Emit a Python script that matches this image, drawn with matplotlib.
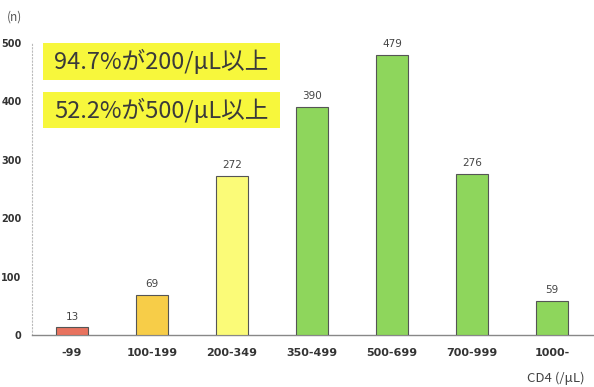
import matplotlib
matplotlib.use("Agg")
import matplotlib.pyplot as plt
from matplotlib.patches import Rectangle

plt.rcParams['font.family'] = ['Noto Sans CJK JP', 'DejaVu Sans']

categories = ["-99", "100-199", "200-349", "350-499", "500-699", "700-999", "1000-"]
counts = [13, 69, 272, 390, 479, 276, 59]
bar_colors = ["#e8735f", "#f7cd48", "#fbfb78", "#8ed65c", "#8ed65c", "#8ed65c", "#8ed65c"]
yticks = [0, 100, 200, 300, 400, 500]
notes = ["94.7%が200/μL以上", "52.2%が500/μL以上"]

W, H = 594, 387
fig = plt.figure(figsize=(W / 100, H / 100), dpi=100)
ax = fig.add_axes([32 / W, (H - 335) / H, (W - 32) / W, 292 / H])

x = range(len(categories))
ax.bar(x, counts, width=0.4, color=bar_colors, edgecolor="#555555", linewidth=0.8, zorder=3)
for xi, v in zip(x, counts):
    ax.text(xi, v + 10, str(v), ha="center", va="bottom", fontsize=7.5,
            color="#444444", family=["DejaVu Sans"], clip_on=False)

ax.set_xlim(-0.5, 6.525)
ax.set_ylim(0, 500)
ax.set_yticks(yticks)
ax.set_xticks(list(x))
ax.set_xticklabels(categories)
ax.tick_params(axis="both", length=0, colors="#333333")
ax.tick_params(axis="y", pad=7.5, labelsize=7)
ax.tick_params(axis="x", pad=9, labelsize=8)
for lab in ax.get_yticklabels() + ax.get_xticklabels():
    lab.set_fontweight("bold")
    lab.set_family(["DejaVu Sans"])

for s in ("top", "right"):
    ax.spines[s].set_visible(False)
ax.spines["left"].set_linestyle((0, (1, 2)))
ax.spines["left"].set_color("#bbbbbb")
ax.spines["left"].set_linewidth(0.8)
ax.spines["bottom"].set_color("#888888")
ax.spines["bottom"].set_linewidth(1.0)

fig.text(7 / W, 1 - 17 / H, "(n)", fontsize=8.5, color="#555555", va="center", ha="left")
fig.text(585 / W, 1 - 378 / H, "CD4 (/μL)", fontsize=9.5, color="#444444", va="center", ha="right")

boxes = [(43, 43, 280, 80), (43, 92, 280, 128)]
for (x0, y0, x1, y1), note in zip(boxes, notes):
    fig.patches.append(Rectangle((x0 / W, 1 - y1 / H), (x1 - x0) / W, (y1 - y0) / H,
                                 transform=fig.transFigure, facecolor="#f7f73c",
                                 edgecolor="none", zorder=5))
    fig.text((x0 + x1) / 2 / W, 1 - (y0 + y1) / 2 / H, note, fontsize=17,
             color="#3a3a3a", ha="center", va="center", zorder=6)

fig.savefig("out.png", dpi=100)
